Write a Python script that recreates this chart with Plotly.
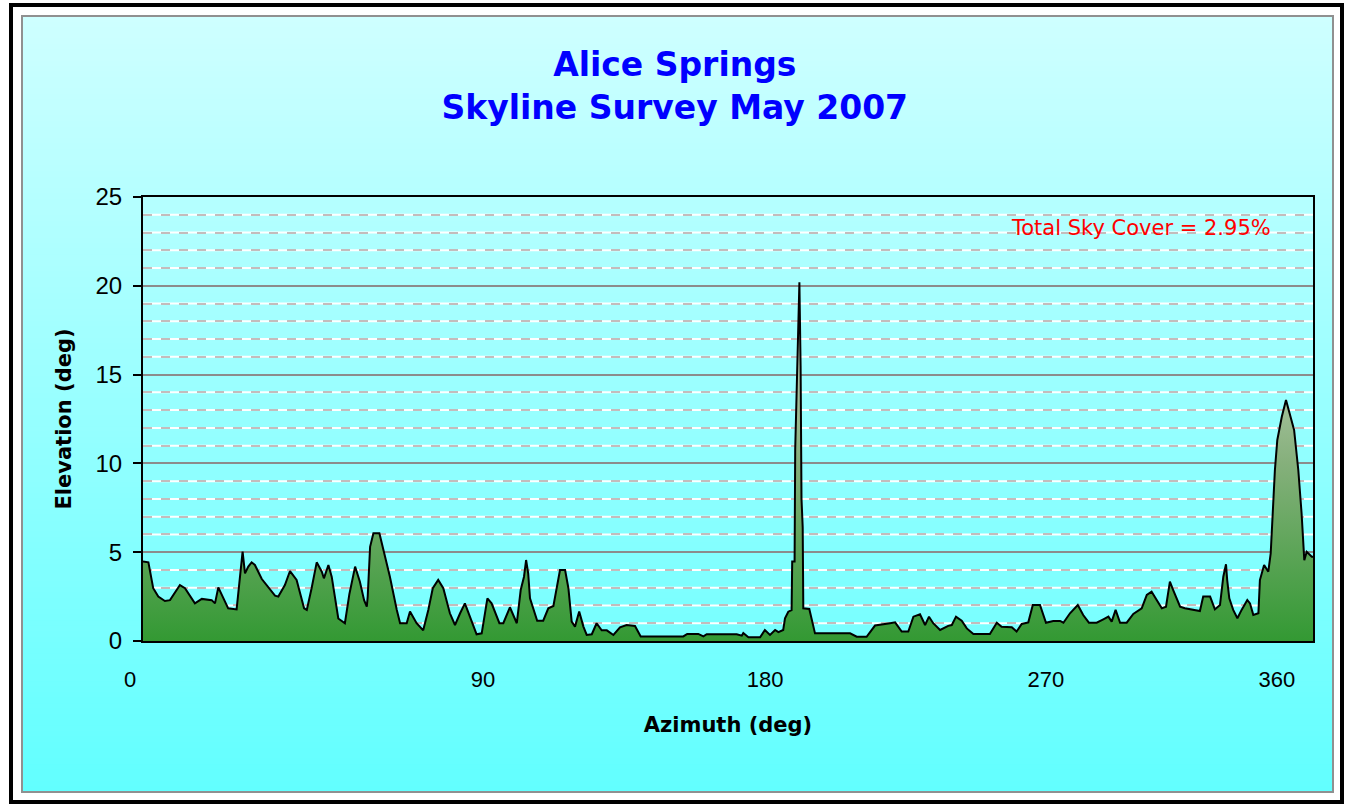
import plotly.graph_objects as go

# Skyline profile: horizontal sample position and elevation above the horizon (deg)
sample_no = [
    0.0, 1.8, 3.4, 5.1, 7.3, 9.0, 12.3, 14.0, 17.3, 19.6, 22.9, 24.0, 25.1, 28.4, 31.2,
    32.3, 33.2, 34.0, 35.1, 36.2, 37.3, 39.6, 42.3, 44.0, 45.1, 47.3, 49.0, 51.2, 53.7,
    54.6, 56.2, 57.9, 59.6, 60.3, 61.8, 62.9, 65.1, 67.3, 68.8, 70.7, 72.3, 73.7, 74.6,
    74.9, 75.7, 76.8, 78.8, 80.1, 82.3, 84.6, 85.7, 87.9, 89.0, 91.2, 93.4, 95.1, 96.6,
    98.4, 100.1, 102.3, 104.0, 105.7, 107.3, 111.2, 112.9, 114.8, 116.2, 118.8, 120.1,
    122.3, 124.6, 125.9, 127.0, 127.7, 128.4, 129.0, 131.4, 133.4, 135.1, 136.8, 137.9,
    139.0, 140.7, 141.8, 142.9, 144.0, 145.4, 146.8, 147.9, 149.6, 151.2, 152.9, 154.6,
    156.8, 159.0, 161.2, 164.0, 165.9, 180.1, 181.4, 185.1, 186.8, 187.9, 197.9, 199.6,
    200.1, 201.8, 205.7, 207.3, 209.0, 210.7, 211.8, 213.4, 214.0, 215.1, 216.2, 216.4,
    217.2, 217.4, 218.2, 218.8, 219.2, 219.5, 219.9, 220.1, 222.1, 222.9, 224.0, 235.7,
    237.9, 241.2, 244.0, 249.0, 250.7, 252.9, 255.1, 256.8, 259.0, 260.7, 262.0, 263.4,
    265.7, 268.4, 269.6, 271.0, 272.9, 274.6, 276.8, 282.3, 284.6, 286.2, 289.6, 291.2,
    292.9, 295.1, 296.6, 299.0, 301.0, 303.4, 305.7, 306.8, 309.0, 311.6, 313.4, 315.3,
    317.9, 320.1, 321.8, 322.9, 324.2, 325.7, 327.9, 330.1, 332.9, 334.6, 336.2, 337.9,
    339.6, 341.0, 342.3, 343.4, 345.7, 347.3, 350.7, 352.3, 353.4, 355.7, 357.3, 359.0,
    360.1, 361.0, 361.4, 362.1, 363.4, 364.8, 366.2, 368.1, 369.0, 370.1, 371.8, 372.3,
    373.7, 375.1, 375.9, 376.6, 377.3, 378.1, 379.6, 381.0, 382.3, 383.7, 385.1, 386.2,
    387.1, 387.9, 389.6, 390.0,
]
elevation_deg = [
    4.47, 4.43, 2.97, 2.50, 2.25, 2.30, 3.15, 2.97, 2.12, 2.37, 2.30, 2.12, 3.02, 1.84, 1.78,
    3.44, 5.03, 3.81, 4.19, 4.43, 4.28, 3.49, 2.87, 2.55, 2.50, 3.15, 3.94, 3.44, 1.84,
    1.75, 2.97, 4.43, 3.90, 3.53, 4.28, 3.62, 1.27, 1.00, 2.65, 4.19, 3.34, 2.30, 1.93,
    2.50, 5.30, 6.07, 6.07, 5.20, 3.62, 1.75, 1.00, 1.00, 1.66, 1.00, 0.60, 1.75, 2.97,
    3.44, 2.97, 1.56, 0.90, 1.56, 2.12, 0.38, 0.43, 2.40, 2.12, 1.00, 1.00,
    1.90, 1.00, 2.87, 3.62, 4.56, 3.81, 2.40, 1.14, 1.14, 1.84, 1.97, 3.06,
    4.00, 4.00, 2.97, 1.09, 0.81, 1.66, 0.81, 0.34, 0.38, 1.00, 0.60, 0.60,
    0.34, 0.77, 0.90, 0.85, 0.26, 0.26, 0.40, 0.40, 0.26, 0.38, 0.38, 0.30,
    0.45, 0.21, 0.21, 0.62, 0.34, 0.62, 0.50, 0.62, 1.28, 1.65, 1.74, 4.47,
    4.47, 10.8, 17.1, 20.2, 15.5, 8.0, 6.4, 1.84, 1.80, 1.20, 0.43, 0.43,
    0.24, 0.24, 0.87, 1.00, 1.05, 0.53, 0.53, 1.37, 1.50, 0.90, 1.37, 1.00,
    0.62, 0.85, 0.90, 1.37, 1.14, 0.71, 0.39, 0.39, 1.03, 0.80, 0.77, 0.53,
    0.96, 1.05, 2.03, 2.03, 1.03, 1.13, 1.13, 1.03, 1.56, 2.03, 1.46, 1.03,
    1.03, 1.22, 1.37, 1.09, 1.75, 1.03, 1.03, 1.52, 1.84, 2.59, 2.78, 2.31,
    1.84, 1.93, 3.34, 2.87, 1.93, 1.84, 1.75, 1.69, 2.50, 2.50, 1.78, 2.03,
    3.62, 4.32, 3.43, 2.40, 1.75, 1.28, 1.75, 2.31, 2.12, 1.47, 1.56, 3.43,
    4.28, 3.90, 4.93, 7.18, 9.63, 11.32, 12.63, 13.57, 12.82, 11.88, 9.63, 7.18,
    4.55, 5.02, 4.74, 4.74,
]

# Azimuth labels along the sample axis
azimuth_tick_samples = [0, 117.7, 211.7, 305.3, 382.3]
azimuth_tick_labels = ["0", "90", "180", "270", "360"]

sky_cover_pct = 2.95

# Plot-area geometry in pixels (used for the decorative frame / background)
W, H = 1355, 807
PL, PR, PT, PB = 143, 1313, 197, 641


def px_x(px):
    return (px - PL) / (PR - PL)


def px_y(py):
    return (PB - py) / (PB - PT)


fig = go.Figure()

fig.add_trace(go.Scatter(
    x=sample_no,
    y=elevation_deg,
    mode="lines",
    line=dict(color="#000000", width=2),
    fill="tozeroy",
    fillgradient=dict(
        type="vertical",
        colorscale=[[0.0, "#339933"], [0.5, "#86b07c"], [1.0, "#d6dccf"]],
        start=0,
        stop=max(elevation_deg),
    ),
    hoverinfo="skip",
    showlegend=False,
))

shapes = []

# Chart-area background: vertical cyan gradient built from thin bands
top_rgb = (206, 255, 255)
bot_rgb = (98, 255, 255)
area_top, area_bot = 16, 792
n_bands = 140
for i in range(n_bands):
    t = i / (n_bands - 1)
    r = round(top_rgb[0] + (bot_rgb[0] - top_rgb[0]) * t)
    g = round(top_rgb[1] + (bot_rgb[1] - top_rgb[1]) * t)
    b = round(top_rgb[2] + (bot_rgb[2] - top_rgb[2]) * t)
    y0 = area_top + (area_bot - area_top) * i / n_bands
    y1 = area_top + (area_bot - area_top) * (i + 1) / n_bands + 1
    shapes.append(dict(
        type="rect", xref="paper", yref="paper", layer="below",
        x0=px_x(22), x1=px_x(1333), y0=px_y(min(y1, area_bot)), y1=px_y(y0),
        fillcolor=f"rgb({r},{g},{b})", line=dict(width=0),
    ))

# Inner chart-area border and outer black frame
shapes.append(dict(
    type="rect", xref="paper", yref="paper", layer="below",
    x0=px_x(22), x1=px_x(1333), y0=px_y(792), y1=px_y(16),
    line=dict(color="#909090", width=2), fillcolor="rgba(0,0,0,0)",
))
shapes.append(dict(
    type="rect", xref="paper", yref="paper", layer="above",
    x0=px_x(11), x1=px_x(1342), y0=px_y(802), y1=px_y(5),
    line=dict(color="#000000", width=4), fillcolor="rgba(0,0,0,0)",
))

# White base under the dashed minor gridlines
for v in range(1, 25):
    if v % 5:
        shapes.append(dict(
            type="line", xref="paper", yref="y", layer="below",
            x0=0, x1=1, y0=v, y1=v, line=dict(color="#ffffff", width=2),
        ))

fig.update_layout(
    width=W, height=H,
    margin=dict(l=PL, r=W - PR, t=PT, b=H - PB, pad=0),
    paper_bgcolor="#ffffff",
    plot_bgcolor="rgba(0,0,0,0)",
    shapes=shapes,
    title=dict(
        text="Alice Springs<br>Skyline Survey May 2007",
        font=dict(family="DejaVu Sans", size=33, color="#0000ff", weight="bold"),
        x=0.498, xanchor="center", xref="container",
        y=1 - 76 / H, yanchor="top", yref="container",
    ),
    xaxis=dict(
        range=[0, 390],
        showgrid=False, zeroline=False,
        showline=True, linecolor="#000000", linewidth=2, mirror=True,
        ticks="",
        tickmode="array",
        tickvals=azimuth_tick_samples,
        ticktext=azimuth_tick_labels,
        ticklabelshift=-13,
        ticklabelstandoff=18,
        tickfont=dict(family="Liberation Sans", size=22, color="#000000"),
        title=dict(
            text="Azimuth (deg)",
            font=dict(family="DejaVu Sans", size=21, color="#000000", weight="bold"),
            standoff=26,
        ),
    ),
    yaxis=dict(
        range=[0, 25],
        tick0=0, dtick=5,
        showgrid=True, gridcolor="#8c8c8c", gridwidth=2,
        minor=dict(dtick=1, showgrid=True, gridcolor="#c4bcbc", gridwidth=2,
                   griddash="dash", ticks=""),
        zeroline=False,
        showline=True, linecolor="#000000", linewidth=2, mirror=True,
        ticks="outside", ticklen=8, tickwidth=2, tickcolor="#000000",
        ticklabelstandoff=6,
        tickfont=dict(family="Liberation Sans", size=24, color="#000000"),
        title=dict(
            text="Elevation (deg)",
            font=dict(family="DejaVu Sans", size=21, color="#000000", weight="bold"),
            standoff=18,
        ),
    ),
    annotations=[dict(
        text=f"Total Sky Cover = {sky_cover_pct:.2f}%",
        xref="x", yref="y", x=332.7, y=23.27,
        xanchor="center", yanchor="middle", showarrow=False,
        font=dict(family="DejaVu Sans", size=21, color="#ff0000"),
    )],
)

fig.write_html("out.html")
